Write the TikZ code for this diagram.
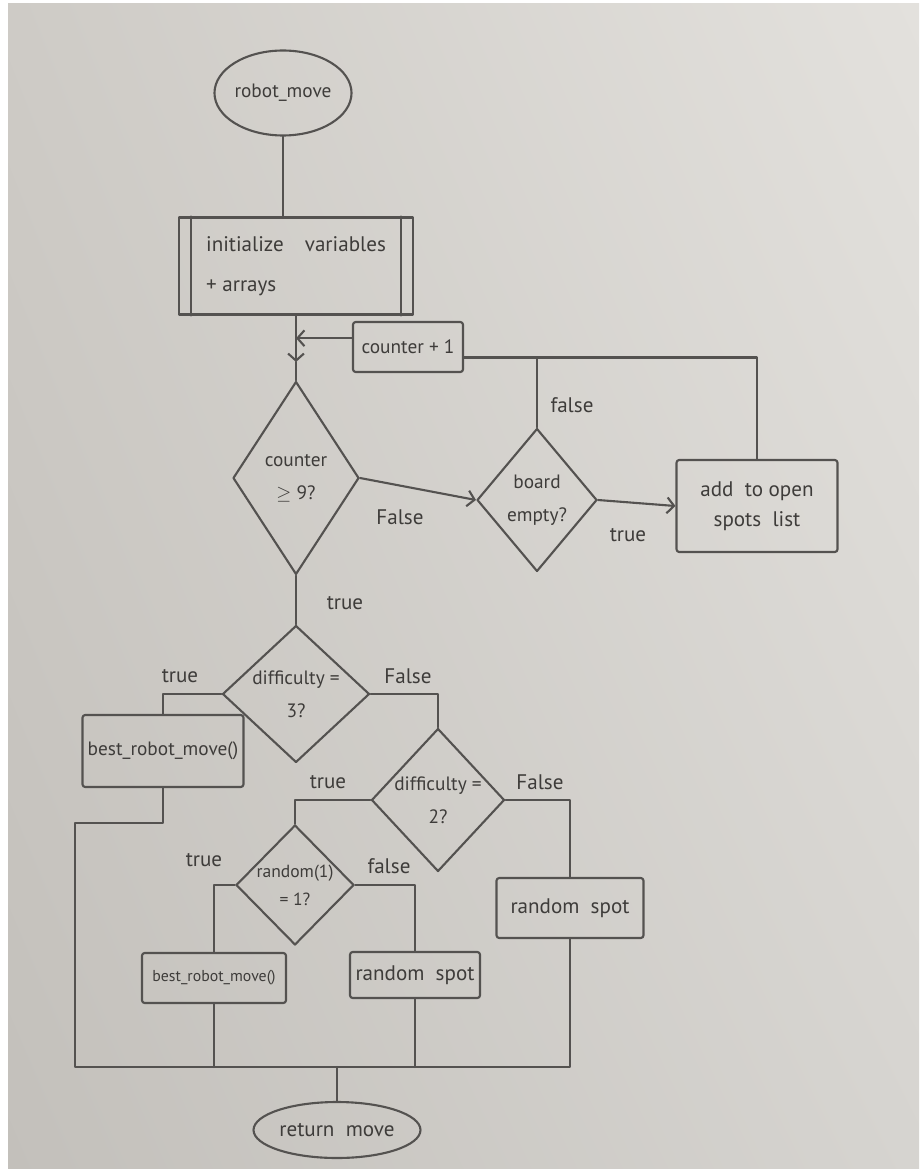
\documentclass[tikz,border=0pt]{standalone}
\usepackage{fontspec}
\setmainfont{PT Sans}
\usetikzlibrary{shapes.geometric,arrows.meta,shadings}

\definecolor{paperA}{RGB}{206,203,198}
\definecolor{paperB}{RGB}{227,225,221}
\definecolor{paperC}{RGB}{195,192,187}
\definecolor{paperD}{RGB}{214,212,208}
\definecolor{pencil}{RGB}{84,82,80}
\definecolor{ink}{RGB}{62,60,58}

\begin{document}
\begin{tikzpicture}[x=0.02cm, y=-0.02cm, color=pencil, line width=1.2pt,
  line cap=round, line join=round,
  every node/.style={text=ink},
  box/.style={draw, rectangle, rounded corners=1.5pt, inner sep=0pt, align=center,
    font=\fontsize{12}{16}\selectfont},
  term/.style={draw, ellipse, inner sep=0pt, font=\fontsize{12}{14}\selectfont},
  decision/.style={draw, diamond, inner sep=-5pt, align=center,
    font=\fontsize{11}{19}\selectfont},
  lbl/.style={inner sep=1pt, font=\fontsize{12}{14}\selectfont},
  flow/.style={-{Straight Barb[length=4pt,width=9pt]}}]

% paper sheet
\useasboundingbox (0,0) rectangle (919,1169);
\fill[white] (0,0) rectangle (919,1169);
\shade[upper left=paperA, upper right=paperB, lower left=paperC, lower right=paperD]
  (8,4) rectangle (919,1169);

% nodes
\node[term, minimum width=2.46cm, minimum height=1.70cm, font=\fontsize{11}{13}\selectfont]
  (start) at (283,93) {robot\_move};
\node[box, rounded corners=0pt, minimum width=4.68cm, minimum height=1.94cm, align=left,
  font=\fontsize{12}{23}\selectfont]
  (init) at (296,266) {initialize\quad variables\\+\ arrays};
\draw ([xshift=0.26cm]init.north west) -- ([xshift=0.26cm]init.south west);
\draw ([xshift=-0.26cm]init.north east) -- ([xshift=-0.26cm]init.south east);

\node[box, minimum width=2.20cm, minimum height=1.00cm, font=\fontsize{11}{14}\selectfont]
  (cnt) at (408,347) {counter + 1};

\node[decision, minimum width=2.52cm, minimum height=3.86cm] (c9) at (296,478)
  {counter\\$\geq$ 9?};
\node[decision, minimum width=2.40cm, minimum height=2.86cm] (board) at (537,500)
  {board\\empty?};
\node[box, minimum width=3.22cm, minimum height=1.84cm, align=center,
  font=\fontsize{12}{17}\selectfont] (add) at (757,506) {add\ \ to\ open\\ spots\ \ list};

\node[decision, minimum width=2.94cm, minimum height=2.74cm] (d3) at (296,694)
  {difficulty =\\3?};
\node[box, minimum width=3.22cm, minimum height=1.44cm, font=\fontsize{11}{14}\selectfont]
  (best1) at (163,751) {best\_robot\_move()};

\node[decision, minimum width=2.66cm, minimum height=2.86cm] (d2) at (438,800)
  {difficulty =\\2?};
\node[decision, minimum width=2.36cm, minimum height=2.40cm, font=\fontsize{10}{16}\selectfont]
  (r1) at (295,885) {random(1)\\= 1?};
\node[box, minimum width=2.94cm, minimum height=1.20cm] (rsR) at (570,908)
  {random\ \ spot};
\node[box, minimum width=2.88cm, minimum height=1.00cm, font=\fontsize{9}{12}\selectfont]
  (best2) at (214,978) {best\_robot\_move()};
\node[box, minimum width=2.60cm, minimum height=0.92cm] (rs1) at (415,975)
  {random\ \ spot};

\node[term, minimum width=3.34cm, minimum height=1.12cm] (ret) at (337,1130)
  {return\ \ move};

% branch labels
\node[lbl] (lf1) at (572,405) {false};
\node[lbl] (lf2) at (400,517) {False};
\node[lbl] (lt1) at (628,535) {true};
\node[lbl] (lt2) at (345,603) {true};
\node[lbl] (lt3) at (180,676) {true};
\node[lbl] (lf3) at (408,676) {False};
\node[lbl] (lt4) at (328,782) {true};
\node[lbl] (lf4) at (540,782) {False};
\node[lbl] (lt5) at (204,860) {true};
\node[lbl] (lf5) at (389,866) {false};

% main spine and loop
\draw (start.south) -- (start.south |- init.north);
\coordinate (downtip) at (296,362);
\coordinate (cntin) at ([yshift=5pt]cnt.west);
\coordinate (cntout) at ([yshift=-6pt]cnt.east);
\draw[flow] (init.south) -- (downtip);
\draw (downtip) -- (c9.north);
\draw[flow] (cntin) -- (cntin -| init.south);
\draw (add.north) |- (cntout);
\draw (board.north) -- (board.north |- cntout);
\draw[flow] (c9.east) -- (board.west);
\draw[flow] (board.east) -- (add.west);

% difficulty branches
\draw (c9.south) -- (d3.north);
\draw (d3.west) -| (best1.north);
\draw (d3.east) -| (d2.north);
\draw (d2.west) -| (r1.north);
\draw (d2.east) -| (rsR.north);
\draw (r1.west) -| (best2.north);
\draw (r1.east) -| (rs1.north);

% merge into return
\coordinate (jog) at (75,823);
\coordinate (bl) at (75,1067);
\draw (best1.south) |- (jog) -- (bl) -- (bl -| rsR.south) -- (rsR.south);
\draw (best2.south) -- (best2.south |- bl);
\draw (rs1.south) -- (rs1.south |- bl);
\draw (ret.north |- bl) -- (ret.north);
\end{tikzpicture}
\end{document}
